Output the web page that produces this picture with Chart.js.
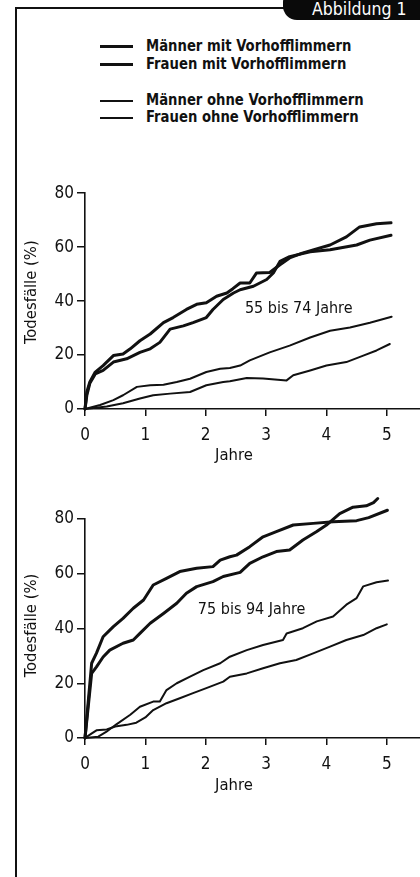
<!DOCTYPE html>
<html>
<head>
<meta charset="utf-8">
<script src="https://cdn.jsdelivr.net/npm/chart.js@4.4.1/dist/chart.umd.min.js"></script>
<style>
  html,body{margin:0;padding:0;background:#fff;}
  body{width:420px;height:877px;position:relative;overflow:hidden;
       font-family:"DejaVu Sans Condensed","Liberation Sans Narrow","Noto Sans",sans-serif;color:#111;}
  #frameL{position:absolute;left:15px;top:7px;width:2px;height:880px;background:#111;}
  #frameT{position:absolute;left:15px;top:7px;width:280px;height:2px;background:#111;}
  #tab{position:absolute;left:283px;top:-8px;width:150px;height:28px;background:#0a0a0a;
       border-radius:10px 0 0 14px;}
  #tabtxt{position:absolute;left:312px;top:-1px;color:#fff;font-size:17.5px;line-height:20px;}
  #legend{position:absolute;left:100px;top:0;}
  .lrow{position:absolute;left:0;white-space:nowrap;height:18px;}
  .lline{position:absolute;left:0;width:33px;background:#111;}
  .ltxt{position:absolute;left:46px;top:0;font-size:16.5px;line-height:18px;font-weight:bold;color:#111;
        transform:scaleX(0.89);transform-origin:0 50%;}
  canvas{position:absolute;}
  #c1{left:20px;top:180px;}
  #c2{left:20px;top:490px;}
</style>
</head>
<body>
<div id="frameL"></div>
<div id="frameT"></div>
<div id="tab"></div>
<div id="tabtxt">Abbildung 1</div>
<div id="legend"></div>
<canvas id="c1" width="400" height="290"></canvas>
<canvas id="c2" width="400" height="310"></canvas>
<script>
// ---- data ----
const seriesNames = ["Männer mit Vorhofflimmern","Frauen mit Vorhofflimmern","Männer ohne Vorhofflimmern","Frauen ohne Vorhofflimmern"];
const xTickValues = [0,1,2,3,4,5];
const yTickValues = [0,20,40,60,80];
const xTitle = "Jahre";
const yTitle = "Todesfälle (%)";
const note1 = "55 bis 74 Jahre";
const note2 = "75 bis 94 Jahre";

// 55 bis 74 Jahre
const a_mAF_t = [0,0.03,0.08,0.17,0.30,0.47,0.63,0.75,0.91,1.08,1.30,1.46,1.68,1.85,2.01,2.18,2.35,2.45,2.57,2.73,2.84,3.06,3.23,3.39,3.6,3.78,4.06,4.33,4.55,4.83,5.07];
const a_mAF_y = [0,6.3,10,13.7,16.1,19.8,20.4,22.3,25.3,27.8,32,33.9,36.9,38.8,39.4,41.8,43,44.6,46.7,46.7,50.4,50.6,53.5,56,57.8,59,60.8,63.8,67.5,68.7,69];
const a_fAF_t = [0,0.03,0.08,0.17,0.30,0.47,0.69,0.91,1.08,1.24,1.41,1.63,1.79,2.01,2.12,2.29,2.46,2.57,2.79,3.01,3.12,3.23,3.39,3.73,4.06,4.5,4.72,5.07];
const a_fAF_y = [0,5,9.5,13,14.3,17.4,18.6,21,22.3,24.7,29.6,30.8,32,33.9,36.9,40.6,43,44.2,45.5,48,50.4,54.7,56.5,58.3,59,60.8,62.6,64.4];
const a_m_t = [0,0.25,0.47,0.63,0.86,1.08,1.3,1.52,1.74,2.01,2.24,2.4,2.57,2.73,3.06,3.39,3.73,4.06,4.39,4.72,5.08];
const a_m_y = [0,1.5,3.3,5.1,8.2,8.8,9,10,11.2,13.7,14.9,15.2,16.1,18,21,23.5,26.5,29,30.2,32,34.2];
const a_f_t = [0,0.36,0.63,0.91,1.13,1.41,1.74,2.01,2.29,2.4,2.68,2.95,3.34,3.45,3.73,4.0,4.33,4.61,4.83,5.05];
const a_f_y = [0,0.9,2.1,3.9,5.1,5.7,6.3,8.8,10,10.3,11.5,11.3,10.6,12.5,14.3,16.1,17.4,19.8,21.7,24.1];

// 75 bis 94 Jahre
const b_mAF_t = [0,0.11,0.19,0.30,0.47,0.63,0.80,0.97,1.13,1.35,1.57,1.85,2.12,2.24,2.4,2.51,2.73,2.95,3.17,3.45,3.78,4.11,4.5,4.7,5.01];
const b_mAF_y = [0,27.3,31,37,40.7,43.7,47.4,50.4,55.9,58.3,60.8,62,62.6,65,66.2,66.8,69.9,73.5,75.4,77.8,78.4,79,79.4,80.5,83.2];
const b_fAF_t = [0,0.11,0.19,0.30,0.41,0.63,0.80,0.91,1.08,1.30,1.52,1.68,1.85,2.12,2.29,2.57,2.73,2.95,3.17,3.39,3.61,3.84,4.0,4.22,4.44,4.66,4.78,4.85];
const b_fAF_y = [0,23.6,26,29.6,32.1,34.6,35.8,38.2,41.9,45.5,49.2,52.9,55.3,57.1,59,60.5,63.8,66.2,68.1,68.7,72.3,75.4,77.8,82,84.3,84.8,86,87.5];
const b_m_t = [0,0.22,0.35,0.52,0.75,0.91,1.13,1.24,1.35,1.52,1.74,1.96,2.24,2.4,2.68,2.95,3.28,3.34,3.61,3.84,4.11,4.33,4.5,4.61,4.83,5.02];
const b_m_y = [0,0.5,2.2,5,8.5,11.4,13.3,13.3,17.5,20,22.4,24.8,27.3,29.7,32.1,34,35.8,38.2,40.1,42.6,44.4,48.7,51.1,55.4,56.9,57.5];
const b_f_t = [0,0.1,0.19,0.36,0.5,0.69,0.85,1.0,1.13,1.35,1.57,1.79,2.01,2.29,2.4,2.68,2.95,3.23,3.5,3.78,4.06,4.33,4.61,4.83,5.0];
const b_f_y = [0,1.5,2.8,3.1,4.2,4.8,5.6,7.5,10.2,12.7,14.5,16.4,18.2,20.6,22.4,23.6,25.5,27.3,28.5,30.9,33.4,35.8,37.6,40.1,41.5];

// ---- styling ----
const FONT = '"DejaVu Sans Condensed","Liberation Sans Narrow","Noto Sans",sans-serif';
const INK = '#111';
const widths = [3,3,2,2];

// legend
const legendTops = [37,55,91,108];
const leg = document.getElementById('legend');
seriesNames.forEach((n,i)=>{
  const r = document.createElement('div');
  r.className='lrow'; r.style.top = legendTops[i]+'px';
  const l = document.createElement('div'); l.className='lline';
  l.style.height = (i<2?3:2)+'px'; l.style.top = (i<2?8:8.5)+'px';
  const t = document.createElement('div'); t.className='ltxt'; t.textContent=n;
  r.appendChild(l); r.appendChild(t); leg.appendChild(r);
});

function pts(t,y){ return t.map((v,i)=>({x:v,y:y[i]})); }

const textPlugin = {
  id:'texts',
  afterDraw(chart, args, o){
    const ctx = chart.ctx, xs = chart.scales.x, ys = chart.scales.y;
    ctx.save();
    ctx.fillStyle = INK;
    ctx.font = '16.5px ' + FONT;
    ctx.textAlign='center'; ctx.textBaseline='middle';
    ctx.fillText(xTitle, xs.getPixelForValue(2.5)-2, o.xTitleY);
    ctx.save();
    ctx.translate(o.yTitleX, (ys.top+ys.bottom)/2 + o.yTitleDy);
    ctx.rotate(-Math.PI/2);
    ctx.fillText(yTitle, 0, 0);
    ctx.restore();
    ctx.textAlign='left';
    ctx.font = '16px ' + FONT;
    ctx.fillText(o.note, xs.getPixelForValue(o.noteX), ys.getPixelForValue(o.noteY));
    ctx.restore();
  }
};

function makeChart(id, sets, padTop, xH, opts){
  return new Chart(document.getElementById(id), {
    type:'line',
    data:{datasets: sets.map((s,i)=>({
      label: seriesNames[i], data: pts(s[0],s[1]),
      borderColor: INK, borderWidth: widths[i], pointRadius:0,
      tension:0, fill:false, clip:false, borderJoinStyle:'round', borderCapStyle:'round'
    }))},
    options:{
      responsive:false, animation:false, events:[],
      layout:{padding:{top:padTop,left:0,right:0,bottom:0}},
      plugins:{legend:{display:false}, tooltip:{enabled:false}, texts: opts},
      scales:{
        x:{type:'linear', min:0, max:5.55,
           afterBuildTicks: a => { a.ticks = xTickValues.map(v=>({value:v})); },
           afterFit: s => { s.height = xH; },
           grid:{drawOnChartArea:false, drawTicks:true, tickLength:7, color:INK, lineWidth:1.5},
           border:{display:true, color:INK, width:1.6},
           ticks:{color:INK, padding:9, font:{family:FONT, size:17}, maxRotation:0}
        },
        y:{type:'linear', min:0, max:80,
           afterBuildTicks: a => { a.ticks = yTickValues.map(v=>({value:v})); },
           afterFit: s => { s.width = 65; },
           grid:{drawOnChartArea:false, drawTicks:true, tickLength:8, color:INK, lineWidth:1.5},
           border:{display:true, color:INK, width:1.6},
           ticks:{color:INK, padding:3, font:{family:FONT, size:17}}
        }
      }
    },
    plugins:[textPlugin]
  });
}

makeChart('c1', [[a_mAF_t,a_mAF_y],[a_fAF_t,a_fAF_y],[a_m_t,a_m_y],[a_f_t,a_f_y]], 11, 61,
  {xTitleY: 276, yTitleX: 12, yTitleDy: -9, note: note1, noteX: 2.65, noteY: 37});
makeChart('c2', [[b_mAF_t,b_mAF_y],[b_fAF_t,b_fAF_y],[b_m_t,b_m_y],[b_f_t,b_f_y]], 29, 62,
  {xTitleY: 296, yTitleX: 12, yTitleDy: -3, note: note2, noteX: 1.87, noteY: 46.8});
</script>
</body>
</html>
